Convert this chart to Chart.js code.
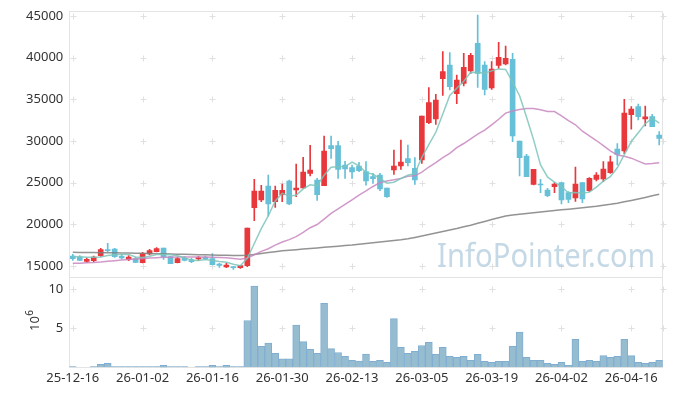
<!DOCTYPE html>
<html><head><meta charset="utf-8">
<script src="https://cdn.jsdelivr.net/npm/chart.js@4"></script>
<style>
html,body{margin:0;padding:0;background:#fff;}
#wrap{position:relative;width:673px;height:396px;overflow:hidden;}
#c1{position:absolute;left:0;top:0;}
#c2{position:absolute;left:0;top:270px;}
</style></head><body>
<div id="wrap"><canvas id="c1" width="673" height="278"></canvas><canvas id="c2" width="673" height="126"></canvas></div>
<script>
const dates = ["25-12-16","25-12-17","25-12-18","25-12-19","25-12-22","25-12-23","25-12-24","25-12-26","25-12-29","25-12-30",
"26-01-02","26-01-05","26-01-06","26-01-07","26-01-08","26-01-09","26-01-12","26-01-13","26-01-14","26-01-15",
"26-01-16","26-01-19","26-01-20","26-01-21","26-01-22","26-01-23","26-01-26","26-01-27","26-01-28","26-01-29",
"26-01-30","26-02-02","26-02-03","26-02-04","26-02-05","26-02-06","26-02-09","26-02-10","26-02-11","26-02-12",
"26-02-13","26-02-19","26-02-20","26-02-23","26-02-24","26-02-25","26-02-26","26-02-27","26-03-03","26-03-04",
"26-03-05","26-03-06","26-03-09","26-03-10","26-03-11","26-03-12","26-03-13","26-03-16","26-03-17","26-03-18",
"26-03-19","26-03-20","26-03-23","26-03-24","26-03-25","26-03-26","26-03-27","26-03-30","26-03-31","26-04-01",
"26-04-02","26-04-03","26-04-06","26-04-07","26-04-08","26-04-09","26-04-10","26-04-13","26-04-14","26-04-15",
"26-04-16","26-04-17","26-04-20","26-04-21","26-04-22"];

const open = [16200,16080,15560,15640,16240,16960,17040,16160,15760,15880,
15400,16440,16720,17160,16120,15400,15920,15760,15840,16040,
15880,15240,14880,14920,14800,15040,22000,22920,24600,22720,
23560,25200,24120,24360,26120,25320,24640,29440,29440,27120,
26800,27000,26320,25720,25920,24360,26520,27000,27880,26720,
27720,32200,32640,37480,39120,35680,36920,38400,41720,39120,
36360,39080,39240,39800,30000,28200,24800,24760,24120,24520,
25000,23800,23160,25000,24040,25400,25440,26200,29040,28800,
33160,34120,32660,32920,30720];
const high = [16400,16240,15960,16200,17120,17720,17120,16400,16240,16040,
16640,17000,17200,17160,16120,16080,16120,15920,16160,16200,
16480,15320,15320,14920,15080,19560,25400,24680,25920,24600,
24840,25320,27240,28040,29480,25520,30600,30600,29960,27560,
27120,27440,27520,26120,26120,24360,28920,30120,29520,28000,
33000,36400,35600,40720,40600,37920,40520,40520,45120,39520,
39520,41840,41400,40520,30000,28400,26600,25400,24320,25000,
25000,23920,26880,25000,25600,26200,27520,28200,29680,35000,
34120,34440,34200,33200,31120];
const low = [15680,15640,15440,15520,16160,16720,16040,15840,15640,15400,
15360,16320,16680,15800,15280,15360,15600,15400,15640,15760,
15120,14840,14800,14600,14720,14920,20440,22720,21000,22040,
22720,22360,23320,24320,25800,22880,24640,27920,25520,25520,
25520,26320,24700,24920,24040,23240,26000,26600,27000,24800,
27320,32080,32000,35480,36120,34480,36600,38120,36440,35520,
36200,38720,39120,29920,25800,25720,24720,23800,23320,23800,
22440,22600,22760,22600,23920,25200,25120,26120,27120,28480,
31420,32520,31800,31720,29520];
const close = [15880,15680,15800,16080,16960,16840,16120,15960,16080,15440,
16480,16840,17080,16080,15280,15880,15680,15520,16000,15880,
15160,15080,15120,14800,15040,19560,24000,24000,22440,24080,
24080,22440,24360,26280,26520,23560,28800,29080,26600,26640,
26280,26440,25200,25480,24240,23320,27000,27480,27400,25320,
33000,34600,34920,38320,36520,37320,38840,40280,38120,36200,
38640,40040,39920,30600,28000,25720,26600,24720,23440,24840,
22920,23000,24840,23040,25520,25920,26620,27500,28400,33340,
33840,32920,32900,31720,30300];
const volume = [0.1,0,0,0.1,0.38,0.5,0.1,0.1,0.1,0.1,
0.1,0.1,0.1,0.25,0.1,0.1,0.1,0,0.1,0.1,
0.25,0.1,0.25,0.1,0.1,6.0,10.4,2.7,3.1,1.8,
1.1,1.1,5.4,3.3,2.3,1.8,8.2,2.4,1.9,1.4,
0.9,0.8,1.7,0.77,0.9,0.64,6.24,2.56,1.8,2.05,
2.8,3.2,1.67,2.56,1.4,1.28,1.4,0.9,1.67,0.77,
0.64,0.77,0.77,2.7,4.5,1.28,0.9,0.9,0.5,0.38,
0.64,0.26,3.6,0.77,0.9,0.77,1.5,1.28,1.4,3.6,
1.5,0.64,0.5,0.64,0.9];
const ma5 = [16150,16100,16050,16050,16080,16272,16360,16392,16392,16088,
16016,16160,16384,16384,16352,16232,16000,15688,15672,15792,
15648,15528,15448,15208,15040,15920,17704,19480,21008,22816,
23720,23408,23480,24248,24736,24632,25904,26848,26912,26936,
27480,27008,26232,26008,25528,24936,25048,25504,25888,26104,
28040,29560,31048,33232,35472,36336,37184,38256,38216,38152,
38416,38656,38584,37080,35440,32856,30168,27128,25696,25064,
24504,23784,23808,23728,23864,24464,25188,25720,26792,28356,
29940,31000,32080,32744,32136];
const ma20 = [15320,15340,15380,15420,15480,15560,15640,15720,15780,15840,
15900,15960,16000,16040,16060,16070,16080,16080,16080,16078,
16042,16012,15978,15914,15818,15954,16348,16750,17068,17500,
17880,18160,18524,19034,19596,19980,20636,21314,21844,22382,
22938,23506,24010,24544,25004,25192,25342,25516,25764,25826,
26272,26880,27408,28010,28510,29198,29700,30260,30836,31314,
31932,32612,33348,33604,33792,33912,33892,33754,33556,33532,
33028,32448,31944,31180,30630,30060,29449,28810,28324,28181,
27941,27585,27234,27290,27405];
const maLong = [16640,16630,16620,16610,16600,16590,16580,16570,16560,16540,
16520,16500,16480,16460,16440,16420,16400,16380,16360,16340,
16320,16300,16280,16260,16250,16280,16390,16500,16610,16720,
16820,16890,16960,17030,17100,17170,17240,17310,17380,17450,
17520,17610,17700,17790,17880,17970,18060,18150,18260,18430,
18600,18780,18950,19130,19310,19490,19700,19900,20120,20350,
20580,20800,21000,21110,21210,21300,21390,21480,21570,21660,
21740,21820,21900,21990,22080,22170,22280,22400,22540,22700,
22870,23050,23230,23420,23600];
const priceTicks = [15000,20000,25000,30000,35000,40000,45000];
const volTicks = [5,10];
const volTitleBase = '10', volTitleExp = '6';
const watermarkText = 'InfoPointer.com';

const FONT = '"Noto Sans", "DejaVu Sans", sans-serif';
Chart.defaults.font.family = FONT;
Chart.defaults.font.size = 13;
Chart.defaults.color = '#333';

const upColor = '#e8383c', downColor = '#66c0d8';
const candleColors = close.map((c, i) => c >= open[i] ? upColor : downColor);

const gridMarks = {
  id: 'gridMarks',
  beforeDatasetsDraw(chart) {
    const {ctx, chartArea: a, scales} = chart;
    ctx.save();
    ctx.strokeStyle = '#e4e4e4'; ctx.lineWidth = 1;
    ctx.strokeRect(Math.round(a.left) + 0.5, Math.round(a.top) + 0.5, Math.round(a.right - a.left), Math.round(a.bottom - a.top));
    ctx.strokeStyle = '#e0e0e0';
    const xs = [];
    for (let i = 0; i < dates.length; i += 10) xs.push(Math.round(scales.x.getPixelForValue(i)) + 0.5);
    xs.push(Math.round(a.right) + 0.5);
    const ys = scales.y.ticks.map(t => Math.round(scales.y.getPixelForValue(t.value)) + 0.5);
    ctx.beginPath();
    xs.forEach(x => ys.forEach(y => { ctx.moveTo(x - 3, y); ctx.lineTo(x + 3, y); ctx.moveTo(x, y - 3); ctx.lineTo(x, y + 3); }));
    ctx.stroke();
    ctx.restore();
  }
};

const watermark = {
  id: 'watermark',
  beforeDatasetsDraw(chart) {
    const ctx = chart.ctx;
    ctx.save();
    ctx.font = '32px ' + FONT;
    const w = ctx.measureText(watermarkText).width;
    const target = 218;
    ctx.translate(437, 267);
    ctx.scale(target / w, 1);
    ctx.fillStyle = 'rgba(168,198,216,0.68)';
    ctx.textBaseline = 'alphabetic';
    ctx.fillText(watermarkText, 0, 0);
    ctx.restore();
  }
};

const axisTitle = {
  id: 'axisTitle',
  afterDraw(chart) {
    const ctx = chart.ctx;
    ctx.save();
    ctx.translate(39, 61);
    ctx.rotate(-Math.PI / 2);
    ctx.fillStyle = '#333';
    ctx.textAlign = 'left';
    ctx.textBaseline = 'alphabetic';
    ctx.font = '13px ' + FONT;
    ctx.fillText(volTitleBase, 0, 0);
    const w = ctx.measureText(volTitleBase).width;
    ctx.font = '10px ' + FONT;
    ctx.fillText(volTitleExp, w + 0.5, -6);
    ctx.restore();
  }
};

const noPad = s => { s.width = 69.3; s.paddingTop = 0; s.paddingBottom = 0; };
const lineStyle = (color) => ({type: 'line', borderColor: color, borderWidth: 1.5, pointRadius: 0, fill: false, tension: 0, order: 0});

new Chart(document.getElementById('c1'), {
  data: {
    labels: dates,
    datasets: [
      Object.assign({data: ma5}, lineStyle('rgba(125,196,186,0.85)')),
      Object.assign({data: ma20}, lineStyle('rgba(200,135,192,0.85)')),
      Object.assign({data: maLong}, lineStyle('rgba(128,128,128,0.85)')),
      {type: 'bar', data: low.map((l, i) => [l, high[i]]), backgroundColor: candleColors, barThickness: 1, grouped: false, order: 2},
      {type: 'bar', data: open.map((o, i) => [o, close[i]]), backgroundColor: candleColors, barThickness: 5, grouped: false, minBarLength: 1, order: 1}
    ]
  },
  options: {
    responsive: false, animation: false,
    layout: {padding: {left: 0, right: 10.3, top: 10.7, bottom: 1}},
    plugins: {legend: {display: false}, tooltip: {enabled: false}},
    scales: {
      x: {display: false, offset: true, grid: {display: false}},
      y: {
        min: 13680, max: 45640,
        afterBuildTicks: s => { s.ticks = priceTicks.map(v => ({value: v})); },
        grid: {display: false, drawTicks: false}, border: {display: false},
        ticks: {padding: 6, color: '#333', callback: v => String(v)},
        afterFit: noPad
      }
    }
  },
  plugins: [gridMarks, watermark]
});

new Chart(document.getElementById('c2'), {
  type: 'bar',
  data: {
    labels: dates,
    datasets: [{data: volume, backgroundColor: 'rgba(150,188,208,1)', borderColor: 'rgba(128,174,210,1)', borderWidth: 1, barPercentage: 1, categoryPercentage: 1}]
  },
  options: {
    responsive: false, animation: false,
    layout: {padding: {left: 0, right: 10.3, top: 7.3, bottom: 0}},
    plugins: {legend: {display: false}, tooltip: {enabled: false}},
    scales: {
      x: {
        offset: true, grid: {display: false, drawTicks: false}, border: {display: false},
        ticks: {autoSkip: false, maxRotation: 0, minRotation: 0, padding: 3, color: '#333', callback: (v, i) => (i % 10 === 0 ? dates[i] : '')},
        afterFit: s => { s.height = 28.7; }
      },
      y: {
        min: 0, max: 11.54,
        afterBuildTicks: s => { s.ticks = volTicks.map(v => ({value: v})); },
        grid: {display: false, drawTicks: false}, border: {display: false},
        ticks: {padding: 6, color: '#333', callback: v => String(v)},
        afterFit: noPad
      }
    }
  },
  plugins: [gridMarks, axisTitle]
});
</script>
</body></html>
